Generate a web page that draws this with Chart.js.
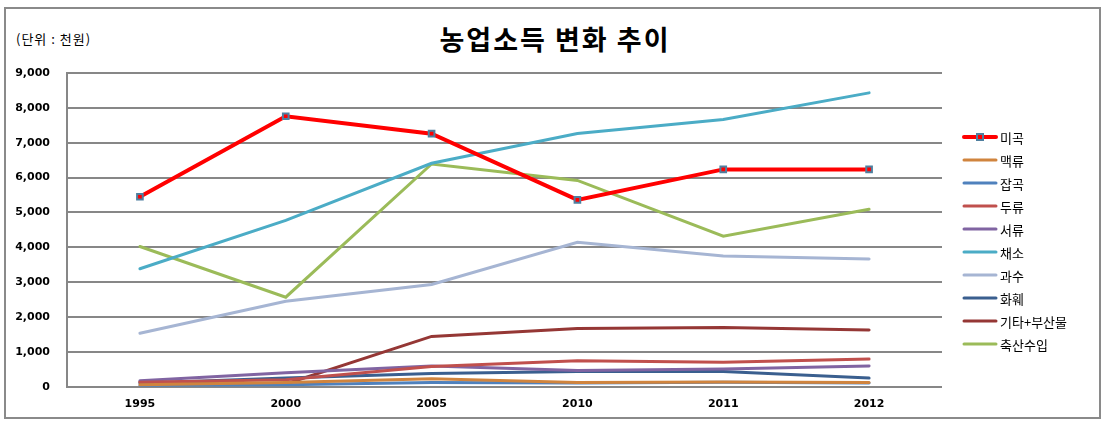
<!DOCTYPE html>
<html>
<head>
<meta charset="utf-8">
<script src="https://cdn.jsdelivr.net/npm/chart.js@4"></script>
<style>
  body { margin: 0; background: #fff; }
  #wrap { position: relative; width: 1110px; height: 424px; }
  #frame { position: absolute; left: 4px; top: 7px; width: 1093px; height: 408px; border: 2px solid #8a8a8a; }
  #title { position: absolute; left: 0; width: 1110px; top: 19px; text-align: center;
           font: bold 27px "Noto Sans CJK KR"; color: #000; letter-spacing: 2px; }
  #unit { position: absolute; left: 16px; top: 29px; font: 13px "Noto Sans CJK KR"; color: #000; letter-spacing: 1px; }
  canvas { position: absolute; left: 0; top: 0; }
</style>
</head>
<body>
<div id="wrap">
  <div id="frame"></div>
  <div id="title">농업소득 변화 추이</div>
  <div id="unit">(단위 : 천원)</div>
  <canvas id="chart" width="1110" height="424"></canvas>
</div>
<script>
// years on the x axis
const years = ["1995", "2000", "2005", "2010", "2011", "2012"];

// series, thousand won
const rice = [5450, 7760, 7260, 5360, 6235, 6235];      // 미곡
const barley = [60, 120, 230, 120, 140, 120];           // 맥류
const grains = [40, 60, 120, 110, 130, 110];            // 잡곡
const beans = [130, 200, 580, 745, 705, 795];           // 두류
const potatoes = [170, 400, 600, 470, 510, 600];        // 서류
const vegetables = [3385, 4775, 6410, 7265, 7665, 8430];// 채소
const fruits = [1535, 2455, 2935, 4145, 3750, 3665];    // 과수
const flowers = [100, 250, 380, 440, 440, 250];         // 화훼
const etc = [140, 80, 1445, 1675, 1700, 1630];          // 기타+부산물
const livestock = [4025, 2570, 6390, 5920, 4320, 5090]; // 축산수입

const yTicks = [0, 1000, 2000, 3000, 4000, 5000, 6000, 7000, 8000, 9000];

function series(label, data, color) {
  return {
    label: label, data: data, borderColor: color, backgroundColor: color,
    borderWidth: 3, pointRadius: 0, tension: 0, borderCapStyle: "round"
  };
}

const datasets = [
  {
    label: "미곡", data: rice, borderColor: "#ff0000", backgroundColor: "#ff0000",
    borderWidth: 4, tension: 0, pointStyle: "rect", pointRadius: 4,
    pointBorderColor: "#4f7f9f", pointBorderWidth: 2, pointBackgroundColor: "#ff0000"
  },
  series("맥류", barley, "#d0843e"),
  series("잡곡", grains, "#4f81bd"),
  series("두류", beans, "#c0504d"),
  series("서류", potatoes, "#8064a2"),
  series("채소", vegetables, "#4bacc6"),
  series("과수", fruits, "#a6b5d3"),
  series("화훼", flowers, "#3a5f8f"),
  series("기타+부산물", etc, "#953735"),
  series("축산수입", livestock, "#9bbb59")
];

// legend on the right, drawn from the datasets
const sideLegend = {
  id: "sideLegend",
  afterDraw(chart) {
    const ctx = chart.ctx;
    ctx.save();
    chart.data.datasets.forEach((ds, i) => {
      const y = 137 + i * 23;
      ctx.strokeStyle = ds.borderColor;
      ctx.lineWidth = ds.borderWidth;
      ctx.lineCap = "round";
      ctx.beginPath();
      ctx.moveTo(964, y);
      ctx.lineTo(996, y);
      ctx.stroke();
      if (ds.pointStyle === "rect") {
        ctx.fillStyle = ds.pointBorderColor;
        ctx.fillRect(976, y - 4, 8, 8);
        ctx.fillStyle = ds.pointBackgroundColor;
        ctx.fillRect(978, y - 2, 4, 4);
      }
      ctx.fillStyle = "#000";
      ctx.font = "13px 'Noto Sans CJK KR'";
      ctx.textBaseline = "middle";
      ctx.fillText(ds.label, 1000, y + 1);
    });
    ctx.restore();
  }
};

new Chart(document.getElementById("chart"), {
  type: "line",
  data: { labels: years, datasets: datasets },
  plugins: [sideLegend],
  options: {
    responsive: false,
    animation: false,
    layout: { padding: { top: 73, left: 0, right: 168, bottom: 2 } },
    plugins: { legend: { display: false }, tooltip: { enabled: false } },
    scales: {
      x: {
        offset: true,
        grid: { display: false, drawTicks: false },
        border: { display: false },
        ticks: { color: "#000", padding: 11, font: { family: "DejaVu Sans", size: 11, weight: "bold" } }
      },
      y: {
        min: 0, max: 9000,
        afterBuildTicks: (axis) => { axis.ticks = yTicks.map(v => ({ value: v })); },
        grid: { color: "#878787", lineWidth: 2, drawTicks: false },
        border: { display: true, color: "#878787", width: 2 },
        afterFit: (axis) => { axis.width = 67; },
        ticks: {
          color: "#000", padding: 17,
          font: { family: "DejaVu Sans", size: 11, weight: "bold" },
          callback: (v) => v.toLocaleString("en-US")
        }
      }
    }
  }
});
</script>
</body>
</html>
